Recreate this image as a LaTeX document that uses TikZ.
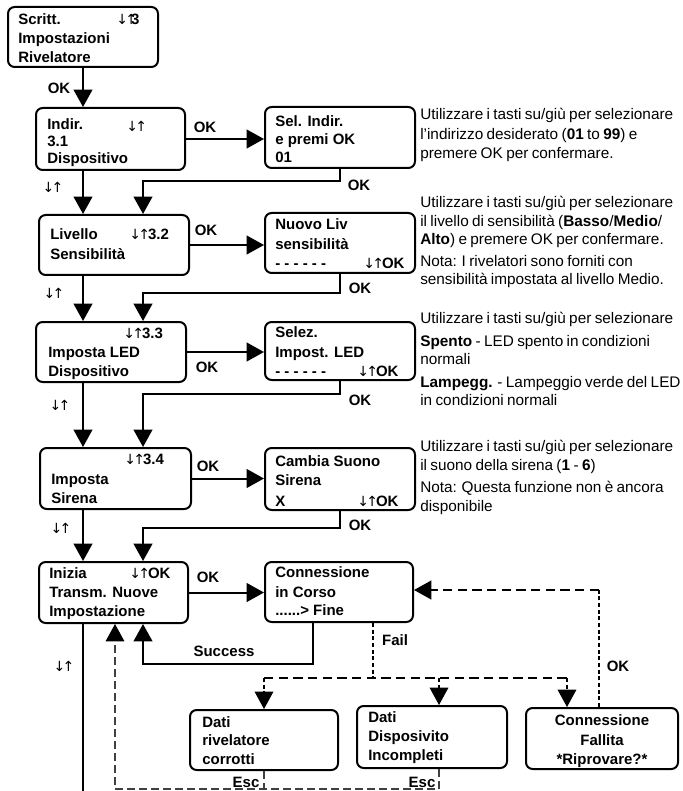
\documentclass[tikz,border=0pt]{standalone}
\usepackage{fontspec}
\setmainfont{Liberation Sans}
\newfontfamily\arrowfont{DejaVu Sans}
\usetikzlibrary{arrows.meta,fit,calc}

% font shortcuts
\newcommand{\boxfont}{\bfseries\fontsize{11.25}{13}\selectfont}
\newcommand{\notefont}{\mdseries\fontsize{11.5}{13.8}\selectfont\spaceskip=0.22em plus 0.1em minus 0.05em\relax}
\newcommand{\ud}{{\arrowfont\mdseries\fontsize{10.5}{12}\selectfont\kern-1.5pt↓\kern-2pt↑\kern-1.5pt}}

\tikzset{
  box/.style={draw, line width=1.5pt, rounded corners=5pt, inner sep=0pt},
  tip/.style={-{Triangle[length=13pt,width=14pt,color=black]}},
  flow/.style={line width=1.5pt},
  dflow/.style={line width=1.6pt, dash pattern=on 7pt off 4pt},
  tdash/.style={line width=0.8pt, dash pattern=on 3pt off 2pt},
  escline/.style={line width=0.8pt, draw=black!75, dash pattern=on 6pt off 3pt},
  bt/.style={font=\boxfont, anchor=base west, inner sep=0pt},
  lbl/.style={font=\boxfont, inner sep=0pt},
  note/.style={font=\notefont, anchor=base west, inner sep=0pt},
}

\begin{document}
\begin{tikzpicture}[x=0.75pt, y=-0.75pt]
\useasboundingbox (0,0) rectangle (682,791);

% ---------- boxes ----------
\node[box, fit={(8,7) (158,67)}]     (b0) {};
\node[box, fit={(36,108) (185,170)}] (b1) {};
\node[box, fit={(265,107) (415,168)}] (s1) {};
\node[box, fit={(39,215) (189,275)}] (b2) {};
\node[box, fit={(265,213) (415,273)}] (s2) {};
\node[box, fit={(36,322) (186,382)}] (b3) {};
\node[box, fit={(265,322) (415,380)}] (s3) {};
\node[box, fit={(40,448) (191,509)}] (b4) {};
\node[box, fit={(265,448) (415,510)}] (s4) {};
\node[box, fit={(39,562) (188,623)}] (b5) {};
\node[box, fit={(265,562) (413,622)}] (s5) {};
\node[box, fit={(190,710) (338,770)}] (d1) {};
\node[box, fit={(357,706) (507,768)}] (d2) {};
\node[box, fit={(526,708) (678,769)}] (d3) {};

% ---------- box texts ----------
\node[bt] (t0a) at (18,25) {Scritt.};
\node[bt] (t0b) at (18,44) {Impostazioni};
\node[bt] (t0c) at (18,63) {Rivelatore};
\node[bt] (t0d) at (118,25) {\ud\kern-3pt 3};

\node[bt] (t1a) at (47,130) {Indir.};
\node[bt] (t1b) at (47,147) {3.1};
\node[bt] (t1c) at (47,164) {Dispositivo};
\node[bt] (t1d) at (128,132) {\ud};

\node[bt] (u1a) at (275,127) {Sel. Indir.};
\node[bt] (u1b) at (275,145) {e premi OK};
\node[bt] (u1c) at (275,163) {01};

\node[bt] (t2a) at (50,240) {Livello};
\node[bt] (t2b) at (50,260) {Sensibilità};
\node[bt] (t2c) at (131,240) {\ud 3.2};

\node[bt] (u2a) at (275,230) {Nuovo Liv};
\node[bt] (u2b) at (275,250) {sensibilità};
\node[bt] (u2c) at (275,268) {- - - - - -};
\node[bt] (u2d) at (365,268) {\ud OK};

\node[bt] (t3a) at (125,338) {\ud 3.3};
\node[bt] (t3b) at (48,357) {Imposta LED};
\node[bt] (t3c) at (48,376) {Dispositivo};

\node[bt] (u3a) at (275,337) {Selez.};
\node[bt] (u3b) at (275,357) {Impost. LED};
\node[bt] (u3c) at (275,376) {- - - - - -};
\node[bt] (u3d) at (359,376) {\ud OK};

\node[bt] (t4a) at (126,464) {\ud 3.4};
\node[bt] (t4b) at (51,484) {Imposta};
\node[bt] (t4c) at (51,503) {Sirena};

\node[bt] (u4a) at (275,466) {Cambia Suono};
\node[bt] (u4b) at (275,485) {Sirena};
\node[bt] (u4c) at (275,506) {X};
\node[bt] (u4d) at (359,506) {\ud OK};

\node[bt] (t5a) at (49,578) {Inizia};
\node[bt] (t5b) at (49,597) {Transm. Nuove};
\node[bt] (t5c) at (49,616) {Impostazione};
\node[bt] (t5d) at (131,578) {\ud OK};

\node[bt] (u5a) at (275,577) {Connessione};
\node[bt] (u5b) at (275,597) {in Corso};
\node[bt] (u5c) at (275,615) {......> Fine};

\node[bt] (v1a) at (202,727) {Dati};
\node[bt] (v1b) at (202,745) {rivelatore};
\node[bt] (v1c) at (202,764) {corrotti};

\node[bt] (v2a) at (368,722) {Dati};
\node[bt] (v2b) at (368,741) {Disposivito};
\node[bt] (v2c) at (368,760) {Incompleti};

\node[bt, anchor=base] (v3a) at (602,725) {Connessione};
\node[bt, anchor=base] (v3b) at (602,745) {Fallita};
\node[bt, anchor=base] (v3c) at (602,764) {*Riprovare?*};

% ---------- helper coordinates ----------
\coordinate (colA) at (83,0);
\coordinate (colB) at (143,0);
\coordinate (colS) at (313,0);
\coordinate (colF) at (373,0);
\coordinate (colD2) at (439,0);
\coordinate (colD3) at (567,0);
\coordinate (colK) at (599,0);
\coordinate (colE) at (115,0);
\coordinate (rowF) at (0,678);
\coordinate (rowK) at (0,590);
\coordinate (rowE) at (0,789);
\coordinate (bottomA) at (83,791);

% ---------- main column ----------
\draw[flow, tip] (b0.south -| colA) -- (b1.north -| colA);
\draw[flow, tip] (b1.south -| colA) -- (b2.north -| colA);
\draw[flow, tip] (b2.south -| colA) -- (b3.north -| colA);
\draw[flow, tip] (b3.south -| colA) -- (b4.north -| colA);
\draw[flow, tip] (b4.south -| colA) -- (b5.north -| colA);
\draw[flow] (b5.south -| colA) -- (bottomA);

% ---------- OK branches ----------
\draw[flow, tip] (b1.east) -- (s1.west |- b1.east);
\draw[flow, tip] (b2.east) -- (s2.west |- b2.east);
\draw[flow, tip] (b3.east) -- (s3.west |- b3.east);
\draw[flow, tip] (b4.east) -- (s4.west |- b4.east);
\draw[flow, tip] (b5.east) -- (s5.west |- b5.east);

% ---------- OK returns ----------
\draw[flow, tip] (s1.south) -- ++(0,12) -| (b2.north -| colB);
\draw[flow, tip] (s2.south) -- ++(0,19) -| (b3.north -| colB);
\draw[flow, tip] (s3.south) -- ++(0,13) -| (b4.north -| colB);
\draw[flow, tip] (s4.south) -- ++(0,17) -| (b5.north -| colB);

% ---------- success ----------
\draw[flow, tip] (s5.south -| colS) -- ++(0,41) -| (b5.south -| colB);

% ---------- fail ----------
\draw[tdash] (s5.south -| colF) -- (colF |- rowF);
\draw[dflow] (rowF -| d1.north) -- (rowF -| colD3);
\draw[tdash, tip] (rowF -| d1.north) -- (d1.north);
\draw[tdash, tip] (rowF -| colD2) -- (d2.north -| colD2);
\draw[tdash, tip] (rowF -| colD3) -- (d3.north -| colD3);

% ---------- retry ----------
\draw[tdash] (d3.north -| colK) -- (colK |- rowK);
\draw[dflow, tip] (colK |- rowK) -- (s5.east |- rowK);

% ---------- escape ----------
\draw[escline] (d1.south) -- (d1.south |- rowE);
\draw[escline, tip] (d2.south -| colD2) -- (colD2 |- rowE) -- (colE |- rowE) -- (b5.south -| colE);

% ---------- connector labels ----------
\node[lbl] (l1) at (59,88) {OK};
\node[lbl] (l2) at (205,127) {OK};
\node[lbl] (l3) at (359,185) {OK};
\node[lbl] (l4) at (53,187) {\ud};
\node[lbl] (l5) at (206,230) {OK};
\node[lbl] (l6) at (360,288) {OK};
\node[lbl] (l7) at (54,293) {\ud};
\node[lbl] (l8) at (207,367) {OK};
\node[lbl] (l9) at (360,400) {OK};
\node[lbl] (l10) at (60,405) {\ud};
\node[lbl] (l11) at (208,466) {OK};
\node[lbl] (l12) at (360,525) {OK};
\node[lbl] (l13) at (61,528) {\ud};
\node[lbl] (l14) at (208,577) {OK};
\node[lbl] (l15) at (224,651) {Success};
\node[lbl] (l16) at (64,666) {\ud};
\node[lbl] (l17) at (395,640) {Fail};
\node[lbl] (l18) at (618,666) {OK};
\node[lbl] (l19) at (246,782) {Esc};
\node[lbl] (l20) at (422,782) {Esc};

% ---------- explanatory notes ----------
\node[note] (n1a) at (420,120) {Utilizzare i tasti su/giù per selezionare};
\node[note] (n1b) at (420,140) {l'indirizzo desiderato (\textbf{01} to \textbf{99}) e};
\node[note] (n1c) at (420,159) {premere OK per confermare.};

\node[note] (n2a) at (420,208) {Utilizzare i tasti su/giù per selezionare};
\node[note] (n2b) at (420,227) {il livello di sensibilità (\textbf{Basso}/\textbf{Medio}/};
\node[note] (n2c) at (420,245) {\textbf{Alto}) e premere OK per confermare.};
\node[note] (n2d) at (420,267) {Nota: I rivelatori sono forniti con};
\node[note] (n2e) at (420,285) {sensibilità impostata al livello Medio.};

\node[note] (n3a) at (420,323) {Utilizzare i tasti su/giù per selezionare};
\node[note] (n3b) at (420,346) {\textbf{Spento} - LED spento in condizioni};
\node[note] (n3c) at (420,364) {normali};
\node[note] (n3d) at (420,387) {\textbf{Lampegg.} - Lampeggio verde del LED};
\node[note] (n3e) at (420,405) {in condizioni normali};

\node[note] (n4a) at (420,451) {Utilizzare i tasti su/giù per selezionare};
\node[note] (n4b) at (420,470) {il suono della sirena (\textbf{1} - \textbf{6})};
\node[note] (n4c) at (420,492) {Nota: Questa funzione non è ancora};
\node[note] (n4d) at (420,511) {disponibile};
\end{tikzpicture}
\end{document}
